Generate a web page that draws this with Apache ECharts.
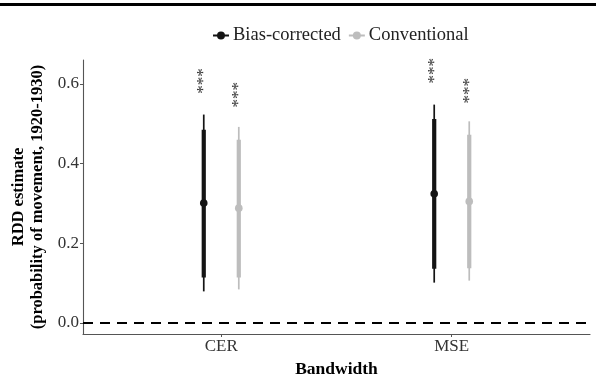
<!DOCTYPE html>
<html>
<head>
<meta charset="utf-8">
<script src="https://cdn.jsdelivr.net/npm/echarts@6/dist/echarts.min.js"></script>
<style>html,body{margin:0;padding:0;background:#fff}#c{width:596px;height:389px}</style>
</head>
<body>
<div id="c"></div>
<script>
const categories = ['CER', 'MSE'];
const seriesNames = ['Bias-corrected', 'Conventional'];
const yTicks = [0, 0.2, 0.4, 0.6];
// Bias-corrected
const biasEst = [0.301, 0.324];
const biasLo95 = [0.079, 0.101];
const biasHi95 = [0.523, 0.548];
const biasLo90 = [0.114, 0.136];
const biasHi90 = [0.485, 0.512];
const biasStarY = [0.607, 0.633];
// Conventional
const convEst = [0.288, 0.305];
const convLo95 = [0.084, 0.106];
const convHi95 = [0.492, 0.506];
const convLo90 = [0.114, 0.137];
const convHi90 = [0.460, 0.472];
const convStarY = [0.573, 0.583];
const starLabels = ['***', '***'];

const FONT = '"Liberation Serif", "DejaVu Serif", serif';
const colors = ['#141414', '#bdbdbd'];
const dodge = 0.076;

function buildRows(est, lo95, hi95, lo90, hi90, off) {
  return categories.map((c, i) => [i + 1 + off, est[i], lo95[i], hi95[i], lo90[i], hi90[i]]);
}
function buildStars(ys, off) {
  return categories.map((c, i) => [i + 1 + off, ys[i], starLabels[i]]);
}

function rangeRender(color) {
  return function (params, api) {
    const x = api.value(0);
    const pe = api.coord([x, api.value(1)]);
    const a = api.coord([x, api.value(2)]);
    const b = api.coord([x, api.value(3)]);
    const c = api.coord([x, api.value(4)]);
    const d = api.coord([x, api.value(5)]);
    return {
      type: 'group',
      children: [
        { type: 'line', shape: { x1: a[0], y1: a[1], x2: b[0], y2: b[1] }, style: { stroke: color, lineWidth: 1.7 } },
        { type: 'line', shape: { x1: c[0], y1: c[1], x2: d[0], y2: d[1] }, style: { stroke: color, lineWidth: 4.2 } },
        { type: 'circle', shape: { cx: pe[0], cy: pe[1], r: 3.8 }, style: { fill: color } }
      ]
    };
  };
}
function starRender(params, api) {
  const p = api.coord([api.value(0), api.value(1)]);
  return {
    type: 'text', x: p[0], y: p[1], rotation: Math.PI / 2,
    style: { text: starLabels[params.dataIndex], font: '17px ' + FONT, fill: '#3a3a3a', align: 'center', verticalAlign: 'middle' }
  };
}

const chart = echarts.init(document.getElementById('c'), null, { renderer: 'canvas' });
const legendIcon = 'path://M0,5.1 L16,5.1 L16,6.9 L0,6.9 Z M8,2 A4,4 0 1,1 7.99,2 Z';
chart.setOption({
  animation: false,
  backgroundColor: '#ffffff',
  textStyle: { fontFamily: FONT },
  graphic: [{ type: 'rect', left: 0, top: 3, shape: { width: 596, height: 3 }, style: { fill: '#000' } }],
  legend: {
    top: 21, left: 208,
    data: seriesNames.map((n, i) => ({ name: n, icon: legendIcon, itemStyle: { color: colors[i] } })),
    itemWidth: 16, itemHeight: 11, itemGap: 8,
    textStyle: { fontFamily: FONT, fontSize: 18.5, color: '#222', padding: [0, 0, 0, -1] }
  },
  grid: { left: 83, right: 6, top: 60, bottom: 55, containLabel: false },
  xAxis: {
    type: 'value', min: 0.4, max: 2.6,
    name: 'Bandwidth', nameLocation: 'middle', nameGap: 26,
    nameTextStyle: { fontFamily: FONT, fontSize: 17.5, fontWeight: 'bold', color: '#000' },
    axisLine: { show: true, onZero: false, lineStyle: { color: '#555', width: 1.1 } },
    axisTick: { show: true, length: 3, lineStyle: { color: '#555' }, customValues: [1, 2] },
    axisLabel: { customValues: [1, 2], formatter: v => categories[Math.round(v) - 1] || '', fontFamily: FONT, fontSize: 17, color: '#333', margin: 4 },
    splitLine: { show: false }
  },
  yAxis: {
    type: 'value', min: -0.028, max: 0.66,
    name: 'RDD estimate\n(probability of movement, 1920-1930)', nameLocation: 'middle', nameGap: 36, nameRotate: 90,
    nameTextStyle: { fontFamily: FONT, fontSize: 16.5, fontWeight: 'bold', color: '#000', lineHeight: 19 },
    axisLine: { show: true, lineStyle: { color: '#555', width: 1.1 } },
    axisTick: { show: true, length: 3, lineStyle: { color: '#555' }, customValues: yTicks },
    axisLabel: { customValues: yTicks, formatter: v => v.toFixed(1), fontFamily: FONT, fontSize: 17, color: '#333', margin: 4 },
    splitLine: { show: false }
  },
  series: [
    {
      name: seriesNames[0], type: 'custom', renderItem: rangeRender(colors[0]),
      itemStyle: { color: colors[0] },
      encode: { x: 0, y: [1, 2, 3, 4, 5] },
      data: buildRows(biasEst, biasLo95, biasHi95, biasLo90, biasHi90, -dodge),
      markLine: {
        silent: true, symbol: 'none', label: { show: false },
        lineStyle: { color: '#000', width: 2, type: [10, 7] },
        data: [{ yAxis: 0 }]
      },
      z: 3
    },
    {
      name: seriesNames[1], type: 'custom', renderItem: rangeRender(colors[1]),
      itemStyle: { color: colors[1] },
      encode: { x: 0, y: [1, 2, 3, 4, 5] },
      data: buildRows(convEst, convLo95, convHi95, convLo90, convHi90, dodge),
      z: 3
    },
    { type: 'custom', renderItem: starRender, encode: { x: 0, y: 1 }, data: buildStars(biasStarY, -dodge), silent: true },
    { type: 'custom', renderItem: starRender, encode: { x: 0, y: 1 }, data: buildStars(convStarY, dodge), silent: true }
  ]
});
</script>
</body>
</html>
